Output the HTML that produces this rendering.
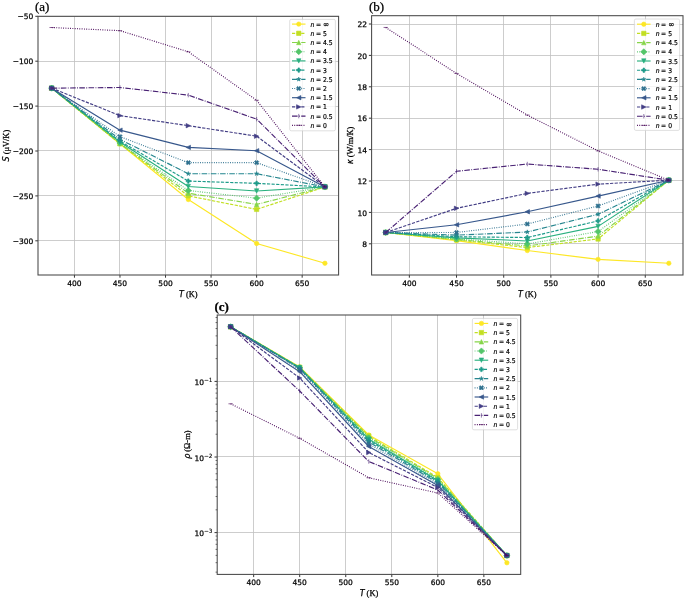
<!DOCTYPE html>
<html><head><meta charset="utf-8"><title>Figure</title>
<style>html,body{margin:0;padding:0;background:#fff}svg{display:block}</style></head>
<body>
<svg width="685" height="600" viewBox="0 0 685 600">
<rect width="685" height="600" fill="#fff"/>
<defs><filter id="soft" x="0" y="0" width="100%" height="100%" filterUnits="userSpaceOnUse"><feGaussianBlur stdDeviation="0.4"/></filter><filter id="softt" x="0" y="0" width="100%" height="100%" filterUnits="userSpaceOnUse"><feGaussianBlur stdDeviation="0.3"/></filter></defs>
<style>.t text{stroke:#000;stroke-width:0.25px}</style>
<rect x="38.00" y="16.30" width="300.60" height="258.70" fill="#fff"/>
<line x1="74.50" y1="16.30" x2="74.50" y2="275.00" stroke="#c0c0c0" stroke-width="0.80"/>
<line x1="119.50" y1="16.30" x2="119.50" y2="275.00" stroke="#c0c0c0" stroke-width="0.80"/>
<line x1="165.50" y1="16.30" x2="165.50" y2="275.00" stroke="#c0c0c0" stroke-width="0.80"/>
<line x1="211.50" y1="16.30" x2="211.50" y2="275.00" stroke="#c0c0c0" stroke-width="0.80"/>
<line x1="256.50" y1="16.30" x2="256.50" y2="275.00" stroke="#c0c0c0" stroke-width="0.80"/>
<line x1="302.50" y1="16.30" x2="302.50" y2="275.00" stroke="#c0c0c0" stroke-width="0.80"/>
<line x1="38.00" y1="240.50" x2="338.60" y2="240.50" stroke="#c0c0c0" stroke-width="0.80"/>
<line x1="38.00" y1="195.50" x2="338.60" y2="195.50" stroke="#c0c0c0" stroke-width="0.80"/>
<line x1="38.00" y1="150.50" x2="338.60" y2="150.50" stroke="#c0c0c0" stroke-width="0.80"/>
<line x1="38.00" y1="106.50" x2="338.60" y2="106.50" stroke="#c0c0c0" stroke-width="0.80"/>
<line x1="38.00" y1="61.50" x2="338.60" y2="61.50" stroke="#c0c0c0" stroke-width="0.80"/>
<line x1="38.00" y1="16.50" x2="338.60" y2="16.50" stroke="#c0c0c0" stroke-width="0.80"/>
<clipPath id="clipa"><rect x="38.00" y="16.30" width="300.60" height="258.70"/></clipPath>
<g filter="url(#soft)"><g clip-path="url(#clipa)">
<polyline points="51.66,88.14 119.98,143.82 188.30,199.49 256.62,243.49 324.94,263.25" fill="none" stroke="#fde725" stroke-width="1.15" stroke-linejoin="round"/>
<circle cx="51.66" cy="88.14" r="2.20" fill="#fde725" stroke="#fde725" stroke-width="0.60"/>
<circle cx="119.98" cy="143.82" r="2.20" fill="#fde725" stroke="#fde725" stroke-width="0.60"/>
<circle cx="188.30" cy="199.49" r="2.20" fill="#fde725" stroke="#fde725" stroke-width="0.60"/>
<circle cx="256.62" cy="243.49" r="2.20" fill="#fde725" stroke="#fde725" stroke-width="0.60"/>
<circle cx="324.94" cy="263.25" r="2.20" fill="#fde725" stroke="#fde725" stroke-width="0.60"/>
<polyline points="51.66,88.14 119.98,143.82 188.30,195.90 256.62,209.37 324.94,186.92" fill="none" stroke="#c2df23" stroke-width="1.15" stroke-dasharray="3.22,1.39" stroke-linejoin="round"/>
<path d="M49.46 90.34 L53.86 90.34 L53.86 85.94 L49.46 85.94 Z" fill="#c2df23" stroke="#c2df23" stroke-width="0.60" stroke-linejoin="miter"/>
<path d="M117.78 146.02 L122.18 146.02 L122.18 141.62 L117.78 141.62 Z" fill="#c2df23" stroke="#c2df23" stroke-width="0.60" stroke-linejoin="miter"/>
<path d="M186.10 198.10 L190.50 198.10 L190.50 193.70 L186.10 193.70 Z" fill="#c2df23" stroke="#c2df23" stroke-width="0.60" stroke-linejoin="miter"/>
<path d="M254.42 211.57 L258.82 211.57 L258.82 207.17 L254.42 207.17 Z" fill="#c2df23" stroke="#c2df23" stroke-width="0.60" stroke-linejoin="miter"/>
<path d="M322.74 189.12 L327.14 189.12 L327.14 184.72 L322.74 184.72 Z" fill="#c2df23" stroke="#c2df23" stroke-width="0.60" stroke-linejoin="miter"/>
<polyline points="51.66,88.14 119.98,143.37 188.30,193.21 256.62,204.43 324.94,186.92" fill="none" stroke="#86d549" stroke-width="1.15" stroke-dasharray="5.57,1.39,0.87,1.39" stroke-linejoin="round"/>
<path d="M51.66 85.94 L49.46 90.34 L53.86 90.34 Z" fill="#86d549" stroke="#86d549" stroke-width="0.60" stroke-linejoin="miter"/>
<path d="M119.98 141.17 L117.78 145.57 L122.18 145.57 Z" fill="#86d549" stroke="#86d549" stroke-width="0.60" stroke-linejoin="miter"/>
<path d="M188.30 191.01 L186.10 195.41 L190.50 195.41 Z" fill="#86d549" stroke="#86d549" stroke-width="0.60" stroke-linejoin="miter"/>
<path d="M256.62 202.23 L254.42 206.63 L258.82 206.63 Z" fill="#86d549" stroke="#86d549" stroke-width="0.60" stroke-linejoin="miter"/>
<path d="M324.94 184.72 L322.74 189.12 L327.14 189.12 Z" fill="#86d549" stroke="#86d549" stroke-width="0.60" stroke-linejoin="miter"/>
<polyline points="51.66,88.14 119.98,142.92 188.30,190.51 256.62,198.15 324.94,186.92" fill="none" stroke="#52c569" stroke-width="1.15" stroke-dasharray="0.87,1.44" stroke-linejoin="round"/>
<path d="M51.66 91.25 L54.77 88.14 L51.66 85.03 L48.55 88.14 Z" fill="#52c569" stroke="#52c569" stroke-width="0.60" stroke-linejoin="miter"/>
<path d="M119.98 146.03 L123.09 142.92 L119.98 139.81 L116.87 142.92 Z" fill="#52c569" stroke="#52c569" stroke-width="0.60" stroke-linejoin="miter"/>
<path d="M188.30 193.62 L191.41 190.51 L188.30 187.40 L185.19 190.51 Z" fill="#52c569" stroke="#52c569" stroke-width="0.60" stroke-linejoin="miter"/>
<path d="M256.62 201.26 L259.73 198.15 L256.62 195.03 L253.51 198.15 Z" fill="#52c569" stroke="#52c569" stroke-width="0.60" stroke-linejoin="miter"/>
<path d="M324.94 190.03 L328.05 186.92 L324.94 183.81 L321.83 186.92 Z" fill="#52c569" stroke="#52c569" stroke-width="0.60" stroke-linejoin="miter"/>
<polyline points="51.66,88.14 119.98,142.02 188.30,186.47 256.62,190.96 324.94,186.92" fill="none" stroke="#2ab07f" stroke-width="1.15" stroke-linejoin="round"/>
<path d="M51.66 90.34 L53.86 85.94 L49.46 85.94 Z" fill="#2ab07f" stroke="#2ab07f" stroke-width="0.60" stroke-linejoin="miter"/>
<path d="M119.98 144.22 L122.18 139.82 L117.78 139.82 Z" fill="#2ab07f" stroke="#2ab07f" stroke-width="0.60" stroke-linejoin="miter"/>
<path d="M188.30 188.67 L190.50 184.27 L186.10 184.27 Z" fill="#2ab07f" stroke="#2ab07f" stroke-width="0.60" stroke-linejoin="miter"/>
<path d="M256.62 193.16 L258.82 188.76 L254.42 188.76 Z" fill="#2ab07f" stroke="#2ab07f" stroke-width="0.60" stroke-linejoin="miter"/>
<path d="M324.94 189.12 L327.14 184.72 L322.74 184.72 Z" fill="#2ab07f" stroke="#2ab07f" stroke-width="0.60" stroke-linejoin="miter"/>
<polyline points="51.66,88.14 119.98,141.12 188.30,181.08 256.62,183.33 324.94,186.92" fill="none" stroke="#1e9b8a" stroke-width="1.15" stroke-dasharray="3.22,1.39" stroke-linejoin="round"/>
<path d="M50.93 90.34 L52.40 90.34 L52.40 88.87 L53.86 88.87 L53.86 87.41 L52.40 87.41 L52.40 85.94 L50.93 85.94 L50.93 87.41 L49.46 87.41 L49.46 88.87 L50.93 88.87 Z" fill="#1e9b8a" stroke="#1e9b8a" stroke-width="0.60" stroke-linejoin="miter"/>
<path d="M119.25 143.32 L120.72 143.32 L120.72 141.86 L122.18 141.86 L122.18 140.39 L120.72 140.39 L120.72 138.92 L119.25 138.92 L119.25 140.39 L117.78 140.39 L117.78 141.86 L119.25 141.86 Z" fill="#1e9b8a" stroke="#1e9b8a" stroke-width="0.60" stroke-linejoin="miter"/>
<path d="M187.57 183.28 L189.03 183.28 L189.03 181.82 L190.50 181.82 L190.50 180.35 L189.03 180.35 L189.03 178.88 L187.57 178.88 L187.57 180.35 L186.10 180.35 L186.10 181.82 L187.57 181.82 Z" fill="#1e9b8a" stroke="#1e9b8a" stroke-width="0.60" stroke-linejoin="miter"/>
<path d="M255.88 185.53 L257.35 185.53 L257.35 184.06 L258.82 184.06 L258.82 182.59 L257.35 182.59 L257.35 181.13 L255.88 181.13 L255.88 182.59 L254.42 182.59 L254.42 184.06 L255.88 184.06 Z" fill="#1e9b8a" stroke="#1e9b8a" stroke-width="0.60" stroke-linejoin="miter"/>
<path d="M324.20 189.12 L325.67 189.12 L325.67 187.65 L327.14 187.65 L327.14 186.19 L325.67 186.19 L325.67 184.72 L324.20 184.72 L324.20 186.19 L322.74 186.19 L322.74 187.65 L324.20 187.65 Z" fill="#1e9b8a" stroke="#1e9b8a" stroke-width="0.60" stroke-linejoin="miter"/>
<polyline points="51.66,88.14 119.98,139.33 188.30,173.72 256.62,173.72 324.94,186.92" fill="none" stroke="#25858e" stroke-width="1.15" stroke-dasharray="5.57,1.39,0.87,1.39" stroke-linejoin="round"/>
<path d="M51.66 85.94 L51.17 87.46 L49.57 87.46 L50.86 88.40 L50.37 89.92 L51.66 88.98 L52.96 89.92 L52.46 88.40 L53.76 87.46 L52.16 87.46 Z" fill="#25858e" stroke="#25858e" stroke-width="0.60" stroke-linejoin="miter"/>
<path d="M119.98 137.13 L119.49 138.65 L117.89 138.65 L119.18 139.59 L118.69 141.11 L119.98 140.17 L121.27 141.11 L120.78 139.59 L122.07 138.65 L120.48 138.65 Z" fill="#25858e" stroke="#25858e" stroke-width="0.60" stroke-linejoin="miter"/>
<path d="M188.30 171.52 L187.81 173.04 L186.21 173.04 L187.50 173.98 L187.01 175.50 L188.30 174.56 L189.59 175.50 L189.10 173.98 L190.39 173.04 L188.79 173.04 Z" fill="#25858e" stroke="#25858e" stroke-width="0.60" stroke-linejoin="miter"/>
<path d="M256.62 171.52 L256.12 173.04 L254.53 173.04 L255.82 173.98 L255.33 175.50 L256.62 174.56 L257.91 175.50 L257.42 173.98 L258.71 173.04 L257.11 173.04 Z" fill="#25858e" stroke="#25858e" stroke-width="0.60" stroke-linejoin="miter"/>
<path d="M324.94 184.72 L324.44 186.24 L322.84 186.24 L324.14 187.18 L323.64 188.70 L324.94 187.76 L326.23 188.70 L325.74 187.18 L327.03 186.24 L325.43 186.24 Z" fill="#25858e" stroke="#25858e" stroke-width="0.60" stroke-linejoin="miter"/>
<polyline points="51.66,88.14 119.98,136.63 188.30,162.67 256.62,162.67 324.94,186.92" fill="none" stroke="#2d708e" stroke-width="1.15" stroke-dasharray="0.87,1.44" stroke-linejoin="round"/>
<path d="M50.56 90.34 L51.66 89.24 L52.76 90.34 L53.86 89.24 L52.76 88.14 L53.86 87.04 L52.76 85.94 L51.66 87.04 L50.56 85.94 L49.46 87.04 L50.56 88.14 L49.46 89.24 Z" fill="#2d708e" stroke="#2d708e" stroke-width="0.60" stroke-linejoin="miter"/>
<path d="M118.88 138.83 L119.98 137.73 L121.08 138.83 L122.18 137.73 L121.08 136.63 L122.18 135.53 L121.08 134.43 L119.98 135.53 L118.88 134.43 L117.78 135.53 L118.88 136.63 L117.78 137.73 Z" fill="#2d708e" stroke="#2d708e" stroke-width="0.60" stroke-linejoin="miter"/>
<path d="M187.20 164.87 L188.30 163.77 L189.40 164.87 L190.50 163.77 L189.40 162.67 L190.50 161.57 L189.40 160.47 L188.30 161.57 L187.20 160.47 L186.10 161.57 L187.20 162.67 L186.10 163.77 Z" fill="#2d708e" stroke="#2d708e" stroke-width="0.60" stroke-linejoin="miter"/>
<path d="M255.52 164.87 L256.62 163.77 L257.72 164.87 L258.82 163.77 L257.72 162.67 L258.82 161.57 L257.72 160.47 L256.62 161.57 L255.52 160.47 L254.42 161.57 L255.52 162.67 L254.42 163.77 Z" fill="#2d708e" stroke="#2d708e" stroke-width="0.60" stroke-linejoin="miter"/>
<path d="M323.84 189.12 L324.94 188.02 L326.04 189.12 L327.14 188.02 L326.04 186.92 L327.14 185.82 L326.04 184.72 L324.94 185.82 L323.84 184.72 L322.74 185.82 L323.84 186.92 L322.74 188.02 Z" fill="#2d708e" stroke="#2d708e" stroke-width="0.60" stroke-linejoin="miter"/>
<polyline points="51.66,88.14 119.98,130.17 188.30,147.41 256.62,150.73 324.94,186.92" fill="none" stroke="#38588c" stroke-width="1.15" stroke-linejoin="round"/>
<path d="M49.46 88.14 L53.86 90.34 L53.86 85.94 Z" fill="#38588c" stroke="#38588c" stroke-width="0.60" stroke-linejoin="miter"/>
<path d="M117.78 130.17 L122.18 132.37 L122.18 127.97 Z" fill="#38588c" stroke="#38588c" stroke-width="0.60" stroke-linejoin="miter"/>
<path d="M186.10 147.41 L190.50 149.61 L190.50 145.21 Z" fill="#38588c" stroke="#38588c" stroke-width="0.60" stroke-linejoin="miter"/>
<path d="M254.42 150.73 L258.82 152.93 L258.82 148.53 Z" fill="#38588c" stroke="#38588c" stroke-width="0.60" stroke-linejoin="miter"/>
<path d="M322.74 186.92 L327.14 189.12 L327.14 184.72 Z" fill="#38588c" stroke="#38588c" stroke-width="0.60" stroke-linejoin="miter"/>
<polyline points="51.66,88.14 119.98,115.62 188.30,125.68 256.62,136.18 324.94,186.92" fill="none" stroke="#433e85" stroke-width="1.15" stroke-dasharray="3.22,1.39" stroke-linejoin="round"/>
<path d="M53.86 88.14 L49.46 85.94 L49.46 90.34 Z" fill="#433e85" stroke="#433e85" stroke-width="0.60" stroke-linejoin="miter"/>
<path d="M122.18 115.62 L117.78 113.42 L117.78 117.82 Z" fill="#433e85" stroke="#433e85" stroke-width="0.60" stroke-linejoin="miter"/>
<path d="M190.50 125.68 L186.10 123.48 L186.10 127.88 Z" fill="#433e85" stroke="#433e85" stroke-width="0.60" stroke-linejoin="miter"/>
<path d="M258.82 136.18 L254.42 133.98 L254.42 138.38 Z" fill="#433e85" stroke="#433e85" stroke-width="0.60" stroke-linejoin="miter"/>
<path d="M327.14 186.92 L322.74 184.72 L322.74 189.12 Z" fill="#433e85" stroke="#433e85" stroke-width="0.60" stroke-linejoin="miter"/>
<polyline points="51.66,88.14 119.98,87.51 188.30,95.14 256.62,119.12 324.94,186.92" fill="none" stroke="#482173" stroke-width="1.15" stroke-dasharray="5.57,1.39,0.87,1.39" stroke-linejoin="round"/>
<path d="M51.66 90.34 L51.66 85.94" fill="none" stroke="#482173" stroke-width="0.60"/>
<path d="M119.98 89.71 L119.98 85.31" fill="none" stroke="#482173" stroke-width="0.60"/>
<path d="M188.30 97.34 L188.30 92.94" fill="none" stroke="#482173" stroke-width="0.60"/>
<path d="M256.62 121.32 L256.62 116.92" fill="none" stroke="#482173" stroke-width="0.60"/>
<path d="M324.94 189.12 L324.94 184.72" fill="none" stroke="#482173" stroke-width="0.60"/>
<polyline points="51.66,27.53 119.98,30.67 188.30,51.77 256.62,100.26 324.94,186.92" fill="none" stroke="#440154" stroke-width="1.15" stroke-dasharray="0.87,1.44" stroke-linejoin="round"/>
<path d="M53.86 27.53 L49.46 27.53" fill="none" stroke="#440154" stroke-width="0.60"/>
<path d="M122.18 30.67 L117.78 30.67" fill="none" stroke="#440154" stroke-width="0.60"/>
<path d="M190.50 51.77 L186.10 51.77" fill="none" stroke="#440154" stroke-width="0.60"/>
<path d="M258.82 100.26 L254.42 100.26" fill="none" stroke="#440154" stroke-width="0.60"/>
<path d="M327.14 186.92 L322.74 186.92" fill="none" stroke="#440154" stroke-width="0.60"/>
</g></g>
<line x1="74.44" y1="275.00" x2="74.44" y2="277.70" stroke="#000" stroke-width="0.80"/>
<line x1="119.98" y1="275.00" x2="119.98" y2="277.70" stroke="#000" stroke-width="0.80"/>
<line x1="165.53" y1="275.00" x2="165.53" y2="277.70" stroke="#000" stroke-width="0.80"/>
<line x1="211.07" y1="275.00" x2="211.07" y2="277.70" stroke="#000" stroke-width="0.80"/>
<line x1="256.62" y1="275.00" x2="256.62" y2="277.70" stroke="#000" stroke-width="0.80"/>
<line x1="302.16" y1="275.00" x2="302.16" y2="277.70" stroke="#000" stroke-width="0.80"/>
<line x1="35.30" y1="240.80" x2="38.00" y2="240.80" stroke="#000" stroke-width="0.80"/>
<line x1="35.30" y1="195.90" x2="38.00" y2="195.90" stroke="#000" stroke-width="0.80"/>
<line x1="35.30" y1="151.00" x2="38.00" y2="151.00" stroke="#000" stroke-width="0.80"/>
<line x1="35.30" y1="106.10" x2="38.00" y2="106.10" stroke="#000" stroke-width="0.80"/>
<line x1="35.30" y1="61.20" x2="38.00" y2="61.20" stroke="#000" stroke-width="0.80"/>
<line x1="35.30" y1="16.30" x2="38.00" y2="16.30" stroke="#000" stroke-width="0.80"/>
<rect x="38.00" y="16.30" width="300.60" height="258.70" fill="none" stroke="#484848" stroke-width="1.05"/>
<g filter="url(#softt)" class="t">
<text x="74.44" y="286.00" font-size="7.50" text-anchor="middle" font-family="'DejaVu Sans','Liberation Sans',sans-serif" fill="#000">400</text>
<text x="119.98" y="286.00" font-size="7.50" text-anchor="middle" font-family="'DejaVu Sans','Liberation Sans',sans-serif" fill="#000">450</text>
<text x="165.53" y="286.00" font-size="7.50" text-anchor="middle" font-family="'DejaVu Sans','Liberation Sans',sans-serif" fill="#000">500</text>
<text x="211.07" y="286.00" font-size="7.50" text-anchor="middle" font-family="'DejaVu Sans','Liberation Sans',sans-serif" fill="#000">550</text>
<text x="256.62" y="286.00" font-size="7.50" text-anchor="middle" font-family="'DejaVu Sans','Liberation Sans',sans-serif" fill="#000">600</text>
<text x="302.16" y="286.00" font-size="7.50" text-anchor="middle" font-family="'DejaVu Sans','Liberation Sans',sans-serif" fill="#000">650</text>
<text x="33.30" y="243.94" font-size="7.50" text-anchor="end" font-family="'DejaVu Sans','Liberation Sans',sans-serif" fill="#000">−300</text>
<text x="33.30" y="199.04" font-size="7.50" text-anchor="end" font-family="'DejaVu Sans','Liberation Sans',sans-serif" fill="#000">−250</text>
<text x="33.30" y="154.14" font-size="7.50" text-anchor="end" font-family="'DejaVu Sans','Liberation Sans',sans-serif" fill="#000">−200</text>
<text x="33.30" y="109.24" font-size="7.50" text-anchor="end" font-family="'DejaVu Sans','Liberation Sans',sans-serif" fill="#000">−150</text>
<text x="33.30" y="64.34" font-size="7.50" text-anchor="end" font-family="'DejaVu Sans','Liberation Sans',sans-serif" fill="#000">−100</text>
<text x="33.30" y="19.44" font-size="7.50" text-anchor="end" font-family="'DejaVu Sans','Liberation Sans',sans-serif" fill="#000">−50</text>
<text x="188.30" y="296.80" text-anchor="middle" fill="#000"><tspan font-family="'DejaVu Sans','Liberation Sans',sans-serif" font-style="italic" font-size="8.00">T</tspan><tspan font-family="'Liberation Serif','DejaVu Serif',serif" font-size="8.40"> (K)</tspan></text>
<text transform="translate(9.00,145.65) rotate(-90)" text-anchor="middle" fill="#000"><tspan font-family="'DejaVu Sans','Liberation Sans',sans-serif" font-style="italic" font-size="8.00">S</tspan><tspan font-family="'Liberation Serif','DejaVu Serif',serif" font-size="8.40"> (μV/K)</tspan></text>
<text x="35.00" y="11.10" font-family="'Liberation Serif','DejaVu Serif',serif" font-weight="normal" font-size="13.00" fill="#000">(a)</text>
</g>
<g filter="url(#soft)">
<rect x="289.70" y="19.40" width="45.70" height="111.40" rx="1.5" ry="1.5" fill="#fff" fill-opacity="0.8" stroke="#ccc" stroke-width="0.62"/>
<line x1="292.00" y1="24.10" x2="305.50" y2="24.10" stroke="#fde725" stroke-width="1.15"/>
<circle cx="298.75" cy="24.10" r="2.20" fill="#fde725" stroke="#fde725" stroke-width="0.60"/>
<text transform="translate(310.60,26.63) scale(0.9,1)" font-size="6.75" font-family="'DejaVu Sans','Liberation Sans',sans-serif" fill="#000" stroke="#000" stroke-width="0.2"><tspan font-style="italic">n</tspan><tspan dx="1.6">=</tspan><tspan dx="2.2"><tspan font-size="8.2" dy="0.7">∞</tspan></tspan></text>
<line x1="292.00" y1="33.30" x2="305.50" y2="33.30" stroke="#c2df23" stroke-width="1.15" stroke-dasharray="3.22,1.39"/>
<path d="M296.55 35.50 L300.95 35.50 L300.95 31.10 L296.55 31.10 Z" fill="#c2df23" stroke="#c2df23" stroke-width="0.60" stroke-linejoin="miter"/>
<text transform="translate(310.60,35.83) scale(0.9,1)" font-size="6.75" font-family="'DejaVu Sans','Liberation Sans',sans-serif" fill="#000" stroke="#000" stroke-width="0.2"><tspan font-style="italic">n</tspan><tspan dx="1.6">=</tspan><tspan dx="2.2">5</tspan></text>
<line x1="292.00" y1="42.50" x2="305.50" y2="42.50" stroke="#86d549" stroke-width="1.15" stroke-dasharray="5.57,1.39,0.87,1.39"/>
<path d="M298.75 40.30 L296.55 44.70 L300.95 44.70 Z" fill="#86d549" stroke="#86d549" stroke-width="0.60" stroke-linejoin="miter"/>
<text transform="translate(310.60,45.03) scale(0.9,1)" font-size="6.75" font-family="'DejaVu Sans','Liberation Sans',sans-serif" fill="#000" stroke="#000" stroke-width="0.2"><tspan font-style="italic">n</tspan><tspan dx="1.6">=</tspan><tspan dx="2.2">4.5</tspan></text>
<line x1="292.00" y1="51.70" x2="305.50" y2="51.70" stroke="#52c569" stroke-width="1.15" stroke-dasharray="0.87,1.44"/>
<path d="M298.75 54.81 L301.86 51.70 L298.75 48.59 L295.64 51.70 Z" fill="#52c569" stroke="#52c569" stroke-width="0.60" stroke-linejoin="miter"/>
<text transform="translate(310.60,54.23) scale(0.9,1)" font-size="6.75" font-family="'DejaVu Sans','Liberation Sans',sans-serif" fill="#000" stroke="#000" stroke-width="0.2"><tspan font-style="italic">n</tspan><tspan dx="1.6">=</tspan><tspan dx="2.2">4</tspan></text>
<line x1="292.00" y1="60.90" x2="305.50" y2="60.90" stroke="#2ab07f" stroke-width="1.15"/>
<path d="M298.75 63.10 L300.95 58.70 L296.55 58.70 Z" fill="#2ab07f" stroke="#2ab07f" stroke-width="0.60" stroke-linejoin="miter"/>
<text transform="translate(310.60,63.43) scale(0.9,1)" font-size="6.75" font-family="'DejaVu Sans','Liberation Sans',sans-serif" fill="#000" stroke="#000" stroke-width="0.2"><tspan font-style="italic">n</tspan><tspan dx="1.6">=</tspan><tspan dx="2.2">3.5</tspan></text>
<line x1="292.00" y1="70.10" x2="305.50" y2="70.10" stroke="#1e9b8a" stroke-width="1.15" stroke-dasharray="3.22,1.39"/>
<path d="M298.02 72.30 L299.48 72.30 L299.48 70.83 L300.95 70.83 L300.95 69.37 L299.48 69.37 L299.48 67.90 L298.02 67.90 L298.02 69.37 L296.55 69.37 L296.55 70.83 L298.02 70.83 Z" fill="#1e9b8a" stroke="#1e9b8a" stroke-width="0.60" stroke-linejoin="miter"/>
<text transform="translate(310.60,72.63) scale(0.9,1)" font-size="6.75" font-family="'DejaVu Sans','Liberation Sans',sans-serif" fill="#000" stroke="#000" stroke-width="0.2"><tspan font-style="italic">n</tspan><tspan dx="1.6">=</tspan><tspan dx="2.2">3</tspan></text>
<line x1="292.00" y1="79.30" x2="305.50" y2="79.30" stroke="#25858e" stroke-width="1.15" stroke-dasharray="5.57,1.39,0.87,1.39"/>
<path d="M298.75 77.10 L298.26 78.62 L296.66 78.62 L297.95 79.56 L297.46 81.08 L298.75 80.14 L300.04 81.08 L299.55 79.56 L300.84 78.62 L299.24 78.62 Z" fill="#25858e" stroke="#25858e" stroke-width="0.60" stroke-linejoin="miter"/>
<text transform="translate(310.60,81.83) scale(0.9,1)" font-size="6.75" font-family="'DejaVu Sans','Liberation Sans',sans-serif" fill="#000" stroke="#000" stroke-width="0.2"><tspan font-style="italic">n</tspan><tspan dx="1.6">=</tspan><tspan dx="2.2">2.5</tspan></text>
<line x1="292.00" y1="88.50" x2="305.50" y2="88.50" stroke="#2d708e" stroke-width="1.15" stroke-dasharray="0.87,1.44"/>
<path d="M297.65 90.70 L298.75 89.60 L299.85 90.70 L300.95 89.60 L299.85 88.50 L300.95 87.40 L299.85 86.30 L298.75 87.40 L297.65 86.30 L296.55 87.40 L297.65 88.50 L296.55 89.60 Z" fill="#2d708e" stroke="#2d708e" stroke-width="0.60" stroke-linejoin="miter"/>
<text transform="translate(310.60,91.03) scale(0.9,1)" font-size="6.75" font-family="'DejaVu Sans','Liberation Sans',sans-serif" fill="#000" stroke="#000" stroke-width="0.2"><tspan font-style="italic">n</tspan><tspan dx="1.6">=</tspan><tspan dx="2.2">2</tspan></text>
<line x1="292.00" y1="97.70" x2="305.50" y2="97.70" stroke="#38588c" stroke-width="1.15"/>
<path d="M296.55 97.70 L300.95 99.90 L300.95 95.50 Z" fill="#38588c" stroke="#38588c" stroke-width="0.60" stroke-linejoin="miter"/>
<text transform="translate(310.60,100.23) scale(0.9,1)" font-size="6.75" font-family="'DejaVu Sans','Liberation Sans',sans-serif" fill="#000" stroke="#000" stroke-width="0.2"><tspan font-style="italic">n</tspan><tspan dx="1.6">=</tspan><tspan dx="2.2">1.5</tspan></text>
<line x1="292.00" y1="106.90" x2="305.50" y2="106.90" stroke="#433e85" stroke-width="1.15" stroke-dasharray="3.22,1.39"/>
<path d="M300.95 106.90 L296.55 104.70 L296.55 109.10 Z" fill="#433e85" stroke="#433e85" stroke-width="0.60" stroke-linejoin="miter"/>
<text transform="translate(310.60,109.43) scale(0.9,1)" font-size="6.75" font-family="'DejaVu Sans','Liberation Sans',sans-serif" fill="#000" stroke="#000" stroke-width="0.2"><tspan font-style="italic">n</tspan><tspan dx="1.6">=</tspan><tspan dx="2.2">1</tspan></text>
<line x1="292.00" y1="116.10" x2="305.50" y2="116.10" stroke="#482173" stroke-width="1.15" stroke-dasharray="5.57,1.39,0.87,1.39"/>
<path d="M298.75 118.30 L298.75 113.90" fill="none" stroke="#482173" stroke-width="0.60"/>
<text transform="translate(310.60,118.63) scale(0.9,1)" font-size="6.75" font-family="'DejaVu Sans','Liberation Sans',sans-serif" fill="#000" stroke="#000" stroke-width="0.2"><tspan font-style="italic">n</tspan><tspan dx="1.6">=</tspan><tspan dx="2.2">0.5</tspan></text>
<line x1="292.00" y1="125.30" x2="305.50" y2="125.30" stroke="#440154" stroke-width="1.15" stroke-dasharray="0.87,1.44"/>
<path d="M300.95 125.30 L296.55 125.30" fill="none" stroke="#440154" stroke-width="0.60"/>
<text transform="translate(310.60,127.83) scale(0.9,1)" font-size="6.75" font-family="'DejaVu Sans','Liberation Sans',sans-serif" fill="#000" stroke="#000" stroke-width="0.2"><tspan font-style="italic">n</tspan><tspan dx="1.6">=</tspan><tspan dx="2.2">0</tspan></text>
</g>
<rect x="371.60" y="15.70" width="311.40" height="259.30" fill="#fff"/>
<line x1="409.50" y1="15.70" x2="409.50" y2="275.00" stroke="#c0c0c0" stroke-width="0.80"/>
<line x1="456.50" y1="15.70" x2="456.50" y2="275.00" stroke="#c0c0c0" stroke-width="0.80"/>
<line x1="503.50" y1="15.70" x2="503.50" y2="275.00" stroke="#c0c0c0" stroke-width="0.80"/>
<line x1="550.50" y1="15.70" x2="550.50" y2="275.00" stroke="#c0c0c0" stroke-width="0.80"/>
<line x1="598.50" y1="15.70" x2="598.50" y2="275.00" stroke="#c0c0c0" stroke-width="0.80"/>
<line x1="645.50" y1="15.70" x2="645.50" y2="275.00" stroke="#c0c0c0" stroke-width="0.80"/>
<line x1="371.60" y1="243.50" x2="683.00" y2="243.50" stroke="#c0c0c0" stroke-width="0.80"/>
<line x1="371.60" y1="212.50" x2="683.00" y2="212.50" stroke="#c0c0c0" stroke-width="0.80"/>
<line x1="371.60" y1="180.50" x2="683.00" y2="180.50" stroke="#c0c0c0" stroke-width="0.80"/>
<line x1="371.60" y1="149.50" x2="683.00" y2="149.50" stroke="#c0c0c0" stroke-width="0.80"/>
<line x1="371.60" y1="118.50" x2="683.00" y2="118.50" stroke="#c0c0c0" stroke-width="0.80"/>
<line x1="371.60" y1="86.50" x2="683.00" y2="86.50" stroke="#c0c0c0" stroke-width="0.80"/>
<line x1="371.60" y1="55.50" x2="683.00" y2="55.50" stroke="#c0c0c0" stroke-width="0.80"/>
<line x1="371.60" y1="24.50" x2="683.00" y2="24.50" stroke="#c0c0c0" stroke-width="0.80"/>
<clipPath id="clipb"><rect x="371.60" y="15.70" width="311.40" height="259.30"/></clipPath>
<g filter="url(#soft)"><g clip-path="url(#clipb)">
<polyline points="385.75,232.50 456.53,240.66 527.30,250.55 598.07,259.34 668.85,263.27" fill="none" stroke="#fde725" stroke-width="1.15" stroke-linejoin="round"/>
<circle cx="385.75" cy="232.50" r="2.20" fill="#fde725" stroke="#fde725" stroke-width="0.60"/>
<circle cx="456.53" cy="240.66" r="2.20" fill="#fde725" stroke="#fde725" stroke-width="0.60"/>
<circle cx="527.30" cy="250.55" r="2.20" fill="#fde725" stroke="#fde725" stroke-width="0.60"/>
<circle cx="598.07" cy="259.34" r="2.20" fill="#fde725" stroke="#fde725" stroke-width="0.60"/>
<circle cx="668.85" cy="263.27" r="2.20" fill="#fde725" stroke="#fde725" stroke-width="0.60"/>
<polyline points="385.75,232.50 456.53,239.88 527.30,247.57 598.07,238.93 668.85,180.21" fill="none" stroke="#c2df23" stroke-width="1.15" stroke-dasharray="3.22,1.39" stroke-linejoin="round"/>
<path d="M383.55 234.70 L387.95 234.70 L387.95 230.30 L383.55 230.30 Z" fill="#c2df23" stroke="#c2df23" stroke-width="0.60" stroke-linejoin="miter"/>
<path d="M454.33 242.07 L458.73 242.07 L458.73 237.68 L454.33 237.68 Z" fill="#c2df23" stroke="#c2df23" stroke-width="0.60" stroke-linejoin="miter"/>
<path d="M525.10 249.77 L529.50 249.77 L529.50 245.37 L525.10 245.37 Z" fill="#c2df23" stroke="#c2df23" stroke-width="0.60" stroke-linejoin="miter"/>
<path d="M595.87 241.13 L600.27 241.13 L600.27 236.73 L595.87 236.73 Z" fill="#c2df23" stroke="#c2df23" stroke-width="0.60" stroke-linejoin="miter"/>
<path d="M666.65 182.41 L671.05 182.41 L671.05 178.01 L666.65 178.01 Z" fill="#c2df23" stroke="#c2df23" stroke-width="0.60" stroke-linejoin="miter"/>
<polyline points="385.75,232.50 456.53,239.40 527.30,246.00 598.07,236.11 668.85,180.21" fill="none" stroke="#86d549" stroke-width="1.15" stroke-dasharray="5.57,1.39,0.87,1.39" stroke-linejoin="round"/>
<path d="M385.75 230.30 L383.55 234.70 L387.95 234.70 Z" fill="#86d549" stroke="#86d549" stroke-width="0.60" stroke-linejoin="miter"/>
<path d="M456.53 237.20 L454.33 241.60 L458.73 241.60 Z" fill="#86d549" stroke="#86d549" stroke-width="0.60" stroke-linejoin="miter"/>
<path d="M527.30 243.80 L525.10 248.20 L529.50 248.20 Z" fill="#86d549" stroke="#86d549" stroke-width="0.60" stroke-linejoin="miter"/>
<path d="M598.07 233.91 L595.87 238.31 L600.27 238.31 Z" fill="#86d549" stroke="#86d549" stroke-width="0.60" stroke-linejoin="miter"/>
<path d="M668.85 178.01 L666.65 182.41 L671.05 182.41 Z" fill="#86d549" stroke="#86d549" stroke-width="0.60" stroke-linejoin="miter"/>
<polyline points="385.75,232.50 456.53,238.78 527.30,243.96 598.07,231.55 668.85,180.21" fill="none" stroke="#52c569" stroke-width="1.15" stroke-dasharray="0.87,1.44" stroke-linejoin="round"/>
<path d="M385.75 235.61 L388.87 232.50 L385.75 229.38 L382.64 232.50 Z" fill="#52c569" stroke="#52c569" stroke-width="0.60" stroke-linejoin="miter"/>
<path d="M456.53 241.89 L459.64 238.78 L456.53 235.66 L453.42 238.78 Z" fill="#52c569" stroke="#52c569" stroke-width="0.60" stroke-linejoin="miter"/>
<path d="M527.30 247.07 L530.41 243.96 L527.30 240.85 L524.19 243.96 Z" fill="#52c569" stroke="#52c569" stroke-width="0.60" stroke-linejoin="miter"/>
<path d="M598.07 234.67 L601.18 231.55 L598.07 228.44 L594.96 231.55 Z" fill="#52c569" stroke="#52c569" stroke-width="0.60" stroke-linejoin="miter"/>
<path d="M668.85 183.33 L671.96 180.21 L668.85 177.10 L665.73 180.21 Z" fill="#52c569" stroke="#52c569" stroke-width="0.60" stroke-linejoin="miter"/>
<polyline points="385.75,232.50 456.53,237.83 527.30,240.97 598.07,226.37 668.85,180.21" fill="none" stroke="#2ab07f" stroke-width="1.15" stroke-linejoin="round"/>
<path d="M385.75 234.70 L387.95 230.30 L383.55 230.30 Z" fill="#2ab07f" stroke="#2ab07f" stroke-width="0.60" stroke-linejoin="miter"/>
<path d="M456.53 240.03 L458.73 235.63 L454.33 235.63 Z" fill="#2ab07f" stroke="#2ab07f" stroke-width="0.60" stroke-linejoin="miter"/>
<path d="M527.30 243.17 L529.50 238.77 L525.10 238.77 Z" fill="#2ab07f" stroke="#2ab07f" stroke-width="0.60" stroke-linejoin="miter"/>
<path d="M598.07 228.57 L600.27 224.17 L595.87 224.17 Z" fill="#2ab07f" stroke="#2ab07f" stroke-width="0.60" stroke-linejoin="miter"/>
<path d="M668.85 182.41 L671.05 178.01 L666.65 178.01 Z" fill="#2ab07f" stroke="#2ab07f" stroke-width="0.60" stroke-linejoin="miter"/>
<polyline points="385.75,232.50 456.53,236.74 527.30,237.52 598.07,220.88 668.85,180.21" fill="none" stroke="#1e9b8a" stroke-width="1.15" stroke-dasharray="3.22,1.39" stroke-linejoin="round"/>
<path d="M385.02 234.70 L386.49 234.70 L386.49 233.23 L387.95 233.23 L387.95 231.76 L386.49 231.76 L386.49 230.30 L385.02 230.30 L385.02 231.76 L383.55 231.76 L383.55 233.23 L385.02 233.23 Z" fill="#1e9b8a" stroke="#1e9b8a" stroke-width="0.60" stroke-linejoin="miter"/>
<path d="M455.79 238.94 L457.26 238.94 L457.26 237.47 L458.73 237.47 L458.73 236.00 L457.26 236.00 L457.26 234.54 L455.79 234.54 L455.79 236.00 L454.33 236.00 L454.33 237.47 L455.79 237.47 Z" fill="#1e9b8a" stroke="#1e9b8a" stroke-width="0.60" stroke-linejoin="miter"/>
<path d="M526.57 239.72 L528.03 239.72 L528.03 238.25 L529.50 238.25 L529.50 236.79 L528.03 236.79 L528.03 235.32 L526.57 235.32 L526.57 236.79 L525.10 236.79 L525.10 238.25 L526.57 238.25 Z" fill="#1e9b8a" stroke="#1e9b8a" stroke-width="0.60" stroke-linejoin="miter"/>
<path d="M597.34 223.08 L598.81 223.08 L598.81 221.61 L600.27 221.61 L600.27 220.14 L598.81 220.14 L598.81 218.68 L597.34 218.68 L597.34 220.14 L595.87 220.14 L595.87 221.61 L597.34 221.61 Z" fill="#1e9b8a" stroke="#1e9b8a" stroke-width="0.60" stroke-linejoin="miter"/>
<path d="M668.11 182.41 L669.58 182.41 L669.58 180.95 L671.05 180.95 L671.05 179.48 L669.58 179.48 L669.58 178.01 L668.11 178.01 L668.11 179.48 L666.65 179.48 L666.65 180.95 L668.11 180.95 Z" fill="#1e9b8a" stroke="#1e9b8a" stroke-width="0.60" stroke-linejoin="miter"/>
<polyline points="385.75,232.50 456.53,235.16 527.30,232.03 598.07,214.28 668.85,180.21" fill="none" stroke="#25858e" stroke-width="1.15" stroke-dasharray="5.57,1.39,0.87,1.39" stroke-linejoin="round"/>
<path d="M385.75 230.30 L385.26 231.82 L383.66 231.82 L384.96 232.76 L384.46 234.28 L385.75 233.34 L387.05 234.28 L386.55 232.76 L387.85 231.82 L386.25 231.82 Z" fill="#25858e" stroke="#25858e" stroke-width="0.60" stroke-linejoin="miter"/>
<path d="M456.53 232.97 L456.03 234.49 L454.43 234.49 L455.73 235.42 L455.23 236.94 L456.53 236.01 L457.82 236.94 L457.33 235.42 L458.62 234.49 L457.02 234.49 Z" fill="#25858e" stroke="#25858e" stroke-width="0.60" stroke-linejoin="miter"/>
<path d="M527.30 229.83 L526.81 231.35 L525.21 231.35 L526.50 232.28 L526.01 233.80 L527.30 232.87 L528.59 233.80 L528.10 232.28 L529.39 231.35 L527.79 231.35 Z" fill="#25858e" stroke="#25858e" stroke-width="0.60" stroke-linejoin="miter"/>
<path d="M598.07 212.08 L597.58 213.60 L595.98 213.60 L597.27 214.54 L596.78 216.06 L598.07 215.12 L599.37 216.06 L598.87 214.54 L600.17 213.60 L598.57 213.60 Z" fill="#25858e" stroke="#25858e" stroke-width="0.60" stroke-linejoin="miter"/>
<path d="M668.85 178.01 L668.35 179.54 L666.75 179.54 L668.05 180.47 L667.55 181.99 L668.85 181.06 L670.14 181.99 L669.64 180.47 L670.94 179.54 L669.34 179.54 Z" fill="#25858e" stroke="#25858e" stroke-width="0.60" stroke-linejoin="miter"/>
<polyline points="385.75,232.50 456.53,232.50 527.30,224.02 598.07,205.96 668.85,180.21" fill="none" stroke="#2d708e" stroke-width="1.15" stroke-dasharray="0.87,1.44" stroke-linejoin="round"/>
<path d="M384.65 234.70 L385.75 233.60 L386.85 234.70 L387.95 233.60 L386.85 232.50 L387.95 231.40 L386.85 230.30 L385.75 231.40 L384.65 230.30 L383.55 231.40 L384.65 232.50 L383.55 233.60 Z" fill="#2d708e" stroke="#2d708e" stroke-width="0.60" stroke-linejoin="miter"/>
<path d="M455.43 234.70 L456.53 233.60 L457.63 234.70 L458.73 233.60 L457.63 232.50 L458.73 231.40 L457.63 230.30 L456.53 231.40 L455.43 230.30 L454.33 231.40 L455.43 232.50 L454.33 233.60 Z" fill="#2d708e" stroke="#2d708e" stroke-width="0.60" stroke-linejoin="miter"/>
<path d="M526.20 226.22 L527.30 225.12 L528.40 226.22 L529.50 225.12 L528.40 224.02 L529.50 222.92 L528.40 221.82 L527.30 222.92 L526.20 221.82 L525.10 222.92 L526.20 224.02 L525.10 225.12 Z" fill="#2d708e" stroke="#2d708e" stroke-width="0.60" stroke-linejoin="miter"/>
<path d="M596.97 208.16 L598.07 207.06 L599.17 208.16 L600.27 207.06 L599.17 205.96 L600.27 204.86 L599.17 203.76 L598.07 204.86 L596.97 203.76 L595.87 204.86 L596.97 205.96 L595.87 207.06 Z" fill="#2d708e" stroke="#2d708e" stroke-width="0.60" stroke-linejoin="miter"/>
<path d="M667.75 182.41 L668.85 181.31 L669.95 182.41 L671.05 181.31 L669.95 180.21 L671.05 179.11 L669.95 178.01 L668.85 179.11 L667.75 178.01 L666.65 179.11 L667.75 180.21 L666.65 181.31 Z" fill="#2d708e" stroke="#2d708e" stroke-width="0.60" stroke-linejoin="miter"/>
<polyline points="385.75,232.50 456.53,224.80 527.30,211.77 598.07,196.07 668.85,180.21" fill="none" stroke="#38588c" stroke-width="1.15" stroke-linejoin="round"/>
<path d="M383.55 232.50 L387.95 234.70 L387.95 230.30 Z" fill="#38588c" stroke="#38588c" stroke-width="0.60" stroke-linejoin="miter"/>
<path d="M454.33 224.80 L458.73 227.00 L458.73 222.60 Z" fill="#38588c" stroke="#38588c" stroke-width="0.60" stroke-linejoin="miter"/>
<path d="M525.10 211.77 L529.50 213.97 L529.50 209.57 Z" fill="#38588c" stroke="#38588c" stroke-width="0.60" stroke-linejoin="miter"/>
<path d="M595.87 196.07 L600.27 198.27 L600.27 193.87 Z" fill="#38588c" stroke="#38588c" stroke-width="0.60" stroke-linejoin="miter"/>
<path d="M666.65 180.21 L671.05 182.41 L671.05 178.01 Z" fill="#38588c" stroke="#38588c" stroke-width="0.60" stroke-linejoin="miter"/>
<polyline points="385.75,232.50 456.53,208.32 527.30,193.40 598.07,184.14 668.85,180.21" fill="none" stroke="#433e85" stroke-width="1.15" stroke-dasharray="3.22,1.39" stroke-linejoin="round"/>
<path d="M387.95 232.50 L383.55 230.30 L383.55 234.70 Z" fill="#433e85" stroke="#433e85" stroke-width="0.60" stroke-linejoin="miter"/>
<path d="M458.73 208.32 L454.33 206.12 L454.33 210.52 Z" fill="#433e85" stroke="#433e85" stroke-width="0.60" stroke-linejoin="miter"/>
<path d="M529.50 193.40 L525.10 191.20 L525.10 195.60 Z" fill="#433e85" stroke="#433e85" stroke-width="0.60" stroke-linejoin="miter"/>
<path d="M600.27 184.14 L595.87 181.94 L595.87 186.34 Z" fill="#433e85" stroke="#433e85" stroke-width="0.60" stroke-linejoin="miter"/>
<path d="M671.05 180.21 L666.65 178.01 L666.65 182.41 Z" fill="#433e85" stroke="#433e85" stroke-width="0.60" stroke-linejoin="miter"/>
<polyline points="385.75,232.50 456.53,171.27 527.30,164.04 598.07,169.23 668.85,180.21" fill="none" stroke="#482173" stroke-width="1.15" stroke-dasharray="5.57,1.39,0.87,1.39" stroke-linejoin="round"/>
<path d="M385.75 234.70 L385.75 230.30" fill="none" stroke="#482173" stroke-width="0.60"/>
<path d="M456.53 173.47 L456.53 169.07" fill="none" stroke="#482173" stroke-width="0.60"/>
<path d="M527.30 166.24 L527.30 161.84" fill="none" stroke="#482173" stroke-width="0.60"/>
<path d="M598.07 171.43 L598.07 167.03" fill="none" stroke="#482173" stroke-width="0.60"/>
<path d="M668.85 182.41 L668.85 178.01" fill="none" stroke="#482173" stroke-width="0.60"/>
<polyline points="385.75,27.45 456.53,73.45 527.30,115.06 598.07,150.86 668.85,180.21" fill="none" stroke="#440154" stroke-width="1.15" stroke-dasharray="0.87,1.44" stroke-linejoin="round"/>
<path d="M387.95 27.45 L383.55 27.45" fill="none" stroke="#440154" stroke-width="0.60"/>
<path d="M458.73 73.45 L454.33 73.45" fill="none" stroke="#440154" stroke-width="0.60"/>
<path d="M529.50 115.06 L525.10 115.06" fill="none" stroke="#440154" stroke-width="0.60"/>
<path d="M600.27 150.86 L595.87 150.86" fill="none" stroke="#440154" stroke-width="0.60"/>
<path d="M671.05 180.21 L666.65 180.21" fill="none" stroke="#440154" stroke-width="0.60"/>
</g></g>
<line x1="409.35" y1="275.00" x2="409.35" y2="277.70" stroke="#000" stroke-width="0.80"/>
<line x1="456.53" y1="275.00" x2="456.53" y2="277.70" stroke="#000" stroke-width="0.80"/>
<line x1="503.71" y1="275.00" x2="503.71" y2="277.70" stroke="#000" stroke-width="0.80"/>
<line x1="550.89" y1="275.00" x2="550.89" y2="277.70" stroke="#000" stroke-width="0.80"/>
<line x1="598.07" y1="275.00" x2="598.07" y2="277.70" stroke="#000" stroke-width="0.80"/>
<line x1="645.25" y1="275.00" x2="645.25" y2="277.70" stroke="#000" stroke-width="0.80"/>
<line x1="368.90" y1="243.80" x2="371.60" y2="243.80" stroke="#000" stroke-width="0.80"/>
<line x1="368.90" y1="212.40" x2="371.60" y2="212.40" stroke="#000" stroke-width="0.80"/>
<line x1="368.90" y1="181.00" x2="371.60" y2="181.00" stroke="#000" stroke-width="0.80"/>
<line x1="368.90" y1="149.60" x2="371.60" y2="149.60" stroke="#000" stroke-width="0.80"/>
<line x1="368.90" y1="118.20" x2="371.60" y2="118.20" stroke="#000" stroke-width="0.80"/>
<line x1="368.90" y1="86.80" x2="371.60" y2="86.80" stroke="#000" stroke-width="0.80"/>
<line x1="368.90" y1="55.40" x2="371.60" y2="55.40" stroke="#000" stroke-width="0.80"/>
<line x1="368.90" y1="24.00" x2="371.60" y2="24.00" stroke="#000" stroke-width="0.80"/>
<rect x="371.60" y="15.70" width="311.40" height="259.30" fill="none" stroke="#484848" stroke-width="1.05"/>
<g filter="url(#softt)" class="t">
<text x="409.35" y="286.00" font-size="7.50" text-anchor="middle" font-family="'DejaVu Sans','Liberation Sans',sans-serif" fill="#000">400</text>
<text x="456.53" y="286.00" font-size="7.50" text-anchor="middle" font-family="'DejaVu Sans','Liberation Sans',sans-serif" fill="#000">450</text>
<text x="503.71" y="286.00" font-size="7.50" text-anchor="middle" font-family="'DejaVu Sans','Liberation Sans',sans-serif" fill="#000">500</text>
<text x="550.89" y="286.00" font-size="7.50" text-anchor="middle" font-family="'DejaVu Sans','Liberation Sans',sans-serif" fill="#000">550</text>
<text x="598.07" y="286.00" font-size="7.50" text-anchor="middle" font-family="'DejaVu Sans','Liberation Sans',sans-serif" fill="#000">600</text>
<text x="645.25" y="286.00" font-size="7.50" text-anchor="middle" font-family="'DejaVu Sans','Liberation Sans',sans-serif" fill="#000">650</text>
<text x="367.00" y="246.94" font-size="7.50" text-anchor="end" font-family="'DejaVu Sans','Liberation Sans',sans-serif" fill="#000">8</text>
<text x="367.00" y="215.54" font-size="7.50" text-anchor="end" font-family="'DejaVu Sans','Liberation Sans',sans-serif" fill="#000">10</text>
<text x="367.00" y="184.14" font-size="7.50" text-anchor="end" font-family="'DejaVu Sans','Liberation Sans',sans-serif" fill="#000">12</text>
<text x="367.00" y="152.74" font-size="7.50" text-anchor="end" font-family="'DejaVu Sans','Liberation Sans',sans-serif" fill="#000">14</text>
<text x="367.00" y="121.34" font-size="7.50" text-anchor="end" font-family="'DejaVu Sans','Liberation Sans',sans-serif" fill="#000">16</text>
<text x="367.00" y="89.94" font-size="7.50" text-anchor="end" font-family="'DejaVu Sans','Liberation Sans',sans-serif" fill="#000">18</text>
<text x="367.00" y="58.54" font-size="7.50" text-anchor="end" font-family="'DejaVu Sans','Liberation Sans',sans-serif" fill="#000">20</text>
<text x="367.00" y="27.14" font-size="7.50" text-anchor="end" font-family="'DejaVu Sans','Liberation Sans',sans-serif" fill="#000">22</text>
<text x="527.30" y="296.80" text-anchor="middle" fill="#000"><tspan font-family="'DejaVu Sans','Liberation Sans',sans-serif" font-style="italic" font-size="8.00">T</tspan><tspan font-family="'Liberation Serif','DejaVu Serif',serif" font-size="8.40"> (K)</tspan></text>
<text transform="translate(352.50,145.35) rotate(-90)" text-anchor="middle" fill="#000"><tspan font-family="'DejaVu Sans','Liberation Sans',sans-serif" font-style="italic" font-size="8.00">κ</tspan><tspan font-family="'Liberation Serif','DejaVu Serif',serif" font-size="8.40"> (W/m/K)</tspan></text>
<text x="369.00" y="11.10" font-family="'Liberation Serif','DejaVu Serif',serif" font-weight="normal" font-size="13.00" fill="#000">(b)</text>
</g>
<g filter="url(#soft)">
<rect x="634.40" y="19.00" width="45.20" height="111.40" rx="1.5" ry="1.5" fill="#fff" fill-opacity="0.8" stroke="#ccc" stroke-width="0.62"/>
<line x1="637.00" y1="24.20" x2="650.60" y2="24.20" stroke="#fde725" stroke-width="1.15"/>
<circle cx="643.80" cy="24.20" r="2.20" fill="#fde725" stroke="#fde725" stroke-width="0.60"/>
<text transform="translate(655.80,26.73) scale(0.9,1)" font-size="6.75" font-family="'DejaVu Sans','Liberation Sans',sans-serif" fill="#000" stroke="#000" stroke-width="0.2"><tspan font-style="italic">n</tspan><tspan dx="1.6">=</tspan><tspan dx="2.2"><tspan font-size="8.2" dy="0.7">∞</tspan></tspan></text>
<line x1="637.00" y1="33.40" x2="650.60" y2="33.40" stroke="#c2df23" stroke-width="1.15" stroke-dasharray="3.22,1.39"/>
<path d="M641.60 35.60 L646.00 35.60 L646.00 31.20 L641.60 31.20 Z" fill="#c2df23" stroke="#c2df23" stroke-width="0.60" stroke-linejoin="miter"/>
<text transform="translate(655.80,35.93) scale(0.9,1)" font-size="6.75" font-family="'DejaVu Sans','Liberation Sans',sans-serif" fill="#000" stroke="#000" stroke-width="0.2"><tspan font-style="italic">n</tspan><tspan dx="1.6">=</tspan><tspan dx="2.2">5</tspan></text>
<line x1="637.00" y1="42.60" x2="650.60" y2="42.60" stroke="#86d549" stroke-width="1.15" stroke-dasharray="5.57,1.39,0.87,1.39"/>
<path d="M643.80 40.40 L641.60 44.80 L646.00 44.80 Z" fill="#86d549" stroke="#86d549" stroke-width="0.60" stroke-linejoin="miter"/>
<text transform="translate(655.80,45.13) scale(0.9,1)" font-size="6.75" font-family="'DejaVu Sans','Liberation Sans',sans-serif" fill="#000" stroke="#000" stroke-width="0.2"><tspan font-style="italic">n</tspan><tspan dx="1.6">=</tspan><tspan dx="2.2">4.5</tspan></text>
<line x1="637.00" y1="51.80" x2="650.60" y2="51.80" stroke="#52c569" stroke-width="1.15" stroke-dasharray="0.87,1.44"/>
<path d="M643.80 54.91 L646.91 51.80 L643.80 48.69 L640.69 51.80 Z" fill="#52c569" stroke="#52c569" stroke-width="0.60" stroke-linejoin="miter"/>
<text transform="translate(655.80,54.33) scale(0.9,1)" font-size="6.75" font-family="'DejaVu Sans','Liberation Sans',sans-serif" fill="#000" stroke="#000" stroke-width="0.2"><tspan font-style="italic">n</tspan><tspan dx="1.6">=</tspan><tspan dx="2.2">4</tspan></text>
<line x1="637.00" y1="61.00" x2="650.60" y2="61.00" stroke="#2ab07f" stroke-width="1.15"/>
<path d="M643.80 63.20 L646.00 58.80 L641.60 58.80 Z" fill="#2ab07f" stroke="#2ab07f" stroke-width="0.60" stroke-linejoin="miter"/>
<text transform="translate(655.80,63.53) scale(0.9,1)" font-size="6.75" font-family="'DejaVu Sans','Liberation Sans',sans-serif" fill="#000" stroke="#000" stroke-width="0.2"><tspan font-style="italic">n</tspan><tspan dx="1.6">=</tspan><tspan dx="2.2">3.5</tspan></text>
<line x1="637.00" y1="70.20" x2="650.60" y2="70.20" stroke="#1e9b8a" stroke-width="1.15" stroke-dasharray="3.22,1.39"/>
<path d="M643.07 72.40 L644.53 72.40 L644.53 70.93 L646.00 70.93 L646.00 69.47 L644.53 69.47 L644.53 68.00 L643.07 68.00 L643.07 69.47 L641.60 69.47 L641.60 70.93 L643.07 70.93 Z" fill="#1e9b8a" stroke="#1e9b8a" stroke-width="0.60" stroke-linejoin="miter"/>
<text transform="translate(655.80,72.73) scale(0.9,1)" font-size="6.75" font-family="'DejaVu Sans','Liberation Sans',sans-serif" fill="#000" stroke="#000" stroke-width="0.2"><tspan font-style="italic">n</tspan><tspan dx="1.6">=</tspan><tspan dx="2.2">3</tspan></text>
<line x1="637.00" y1="79.40" x2="650.60" y2="79.40" stroke="#25858e" stroke-width="1.15" stroke-dasharray="5.57,1.39,0.87,1.39"/>
<path d="M643.80 77.20 L643.31 78.72 L641.71 78.72 L643.00 79.66 L642.51 81.18 L643.80 80.24 L645.09 81.18 L644.60 79.66 L645.89 78.72 L644.29 78.72 Z" fill="#25858e" stroke="#25858e" stroke-width="0.60" stroke-linejoin="miter"/>
<text transform="translate(655.80,81.93) scale(0.9,1)" font-size="6.75" font-family="'DejaVu Sans','Liberation Sans',sans-serif" fill="#000" stroke="#000" stroke-width="0.2"><tspan font-style="italic">n</tspan><tspan dx="1.6">=</tspan><tspan dx="2.2">2.5</tspan></text>
<line x1="637.00" y1="88.60" x2="650.60" y2="88.60" stroke="#2d708e" stroke-width="1.15" stroke-dasharray="0.87,1.44"/>
<path d="M642.70 90.80 L643.80 89.70 L644.90 90.80 L646.00 89.70 L644.90 88.60 L646.00 87.50 L644.90 86.40 L643.80 87.50 L642.70 86.40 L641.60 87.50 L642.70 88.60 L641.60 89.70 Z" fill="#2d708e" stroke="#2d708e" stroke-width="0.60" stroke-linejoin="miter"/>
<text transform="translate(655.80,91.13) scale(0.9,1)" font-size="6.75" font-family="'DejaVu Sans','Liberation Sans',sans-serif" fill="#000" stroke="#000" stroke-width="0.2"><tspan font-style="italic">n</tspan><tspan dx="1.6">=</tspan><tspan dx="2.2">2</tspan></text>
<line x1="637.00" y1="97.80" x2="650.60" y2="97.80" stroke="#38588c" stroke-width="1.15"/>
<path d="M641.60 97.80 L646.00 100.00 L646.00 95.60 Z" fill="#38588c" stroke="#38588c" stroke-width="0.60" stroke-linejoin="miter"/>
<text transform="translate(655.80,100.33) scale(0.9,1)" font-size="6.75" font-family="'DejaVu Sans','Liberation Sans',sans-serif" fill="#000" stroke="#000" stroke-width="0.2"><tspan font-style="italic">n</tspan><tspan dx="1.6">=</tspan><tspan dx="2.2">1.5</tspan></text>
<line x1="637.00" y1="107.00" x2="650.60" y2="107.00" stroke="#433e85" stroke-width="1.15" stroke-dasharray="3.22,1.39"/>
<path d="M646.00 107.00 L641.60 104.80 L641.60 109.20 Z" fill="#433e85" stroke="#433e85" stroke-width="0.60" stroke-linejoin="miter"/>
<text transform="translate(655.80,109.53) scale(0.9,1)" font-size="6.75" font-family="'DejaVu Sans','Liberation Sans',sans-serif" fill="#000" stroke="#000" stroke-width="0.2"><tspan font-style="italic">n</tspan><tspan dx="1.6">=</tspan><tspan dx="2.2">1</tspan></text>
<line x1="637.00" y1="116.20" x2="650.60" y2="116.20" stroke="#482173" stroke-width="1.15" stroke-dasharray="5.57,1.39,0.87,1.39"/>
<path d="M643.80 118.40 L643.80 114.00" fill="none" stroke="#482173" stroke-width="0.60"/>
<text transform="translate(655.80,118.73) scale(0.9,1)" font-size="6.75" font-family="'DejaVu Sans','Liberation Sans',sans-serif" fill="#000" stroke="#000" stroke-width="0.2"><tspan font-style="italic">n</tspan><tspan dx="1.6">=</tspan><tspan dx="2.2">0.5</tspan></text>
<line x1="637.00" y1="125.40" x2="650.60" y2="125.40" stroke="#440154" stroke-width="1.15" stroke-dasharray="0.87,1.44"/>
<path d="M646.00 125.40 L641.60 125.40" fill="none" stroke="#440154" stroke-width="0.60"/>
<text transform="translate(655.80,127.93) scale(0.9,1)" font-size="6.75" font-family="'DejaVu Sans','Liberation Sans',sans-serif" fill="#000" stroke="#000" stroke-width="0.2"><tspan font-style="italic">n</tspan><tspan dx="1.6">=</tspan><tspan dx="2.2">0</tspan></text>
</g>
<rect x="217.20" y="315.00" width="303.50" height="259.40" fill="#fff"/>
<line x1="253.50" y1="315.00" x2="253.50" y2="574.40" stroke="#c0c0c0" stroke-width="0.80"/>
<line x1="299.50" y1="315.00" x2="299.50" y2="574.40" stroke="#c0c0c0" stroke-width="0.80"/>
<line x1="345.50" y1="315.00" x2="345.50" y2="574.40" stroke="#c0c0c0" stroke-width="0.80"/>
<line x1="391.50" y1="315.00" x2="391.50" y2="574.40" stroke="#c0c0c0" stroke-width="0.80"/>
<line x1="437.50" y1="315.00" x2="437.50" y2="574.40" stroke="#c0c0c0" stroke-width="0.80"/>
<line x1="483.50" y1="315.00" x2="483.50" y2="574.40" stroke="#c0c0c0" stroke-width="0.80"/>
<line x1="217.20" y1="381.50" x2="520.70" y2="381.50" stroke="#c0c0c0" stroke-width="0.80"/>
<line x1="217.20" y1="456.50" x2="520.70" y2="456.50" stroke="#c0c0c0" stroke-width="0.80"/>
<line x1="217.20" y1="532.50" x2="520.70" y2="532.50" stroke="#c0c0c0" stroke-width="0.80"/>
<clipPath id="clipc"><rect x="217.20" y="315.00" width="303.50" height="259.40"/></clipPath>
<g filter="url(#soft)"><g clip-path="url(#clipc)">
<polyline points="230.64,326.80 299.70,367.00 368.77,435.00 437.83,473.80 506.89,562.80" fill="none" stroke="#fde725" stroke-width="1.15" stroke-linejoin="round"/>
<circle cx="230.64" cy="326.80" r="2.20" fill="#fde725" stroke="#fde725" stroke-width="0.60"/>
<circle cx="299.70" cy="367.00" r="2.20" fill="#fde725" stroke="#fde725" stroke-width="0.60"/>
<circle cx="368.77" cy="435.00" r="2.20" fill="#fde725" stroke="#fde725" stroke-width="0.60"/>
<circle cx="437.83" cy="473.80" r="2.20" fill="#fde725" stroke="#fde725" stroke-width="0.60"/>
<circle cx="506.89" cy="562.80" r="2.20" fill="#fde725" stroke="#fde725" stroke-width="0.60"/>
<polyline points="230.64,326.80 299.70,367.20 368.77,436.00 437.83,477.50 506.89,555.50" fill="none" stroke="#c2df23" stroke-width="1.15" stroke-dasharray="3.22,1.39" stroke-linejoin="round"/>
<path d="M228.44 329.00 L232.84 329.00 L232.84 324.60 L228.44 324.60 Z" fill="#c2df23" stroke="#c2df23" stroke-width="0.60" stroke-linejoin="miter"/>
<path d="M297.50 369.40 L301.90 369.40 L301.90 365.00 L297.50 365.00 Z" fill="#c2df23" stroke="#c2df23" stroke-width="0.60" stroke-linejoin="miter"/>
<path d="M366.57 438.20 L370.97 438.20 L370.97 433.80 L366.57 433.80 Z" fill="#c2df23" stroke="#c2df23" stroke-width="0.60" stroke-linejoin="miter"/>
<path d="M435.63 479.70 L440.03 479.70 L440.03 475.30 L435.63 475.30 Z" fill="#c2df23" stroke="#c2df23" stroke-width="0.60" stroke-linejoin="miter"/>
<path d="M504.69 557.70 L509.09 557.70 L509.09 553.30 L504.69 553.30 Z" fill="#c2df23" stroke="#c2df23" stroke-width="0.60" stroke-linejoin="miter"/>
<polyline points="230.64,326.80 299.70,367.40 368.77,437.00 437.83,478.50 506.89,555.50" fill="none" stroke="#86d549" stroke-width="1.15" stroke-dasharray="5.57,1.39,0.87,1.39" stroke-linejoin="round"/>
<path d="M230.64 324.60 L228.44 329.00 L232.84 329.00 Z" fill="#86d549" stroke="#86d549" stroke-width="0.60" stroke-linejoin="miter"/>
<path d="M299.70 365.20 L297.50 369.60 L301.90 369.60 Z" fill="#86d549" stroke="#86d549" stroke-width="0.60" stroke-linejoin="miter"/>
<path d="M368.77 434.80 L366.57 439.20 L370.97 439.20 Z" fill="#86d549" stroke="#86d549" stroke-width="0.60" stroke-linejoin="miter"/>
<path d="M437.83 476.30 L435.63 480.70 L440.03 480.70 Z" fill="#86d549" stroke="#86d549" stroke-width="0.60" stroke-linejoin="miter"/>
<path d="M506.89 553.30 L504.69 557.70 L509.09 557.70 Z" fill="#86d549" stroke="#86d549" stroke-width="0.60" stroke-linejoin="miter"/>
<polyline points="230.64,326.80 299.70,367.60 368.77,438.00 437.83,479.50 506.89,555.50" fill="none" stroke="#52c569" stroke-width="1.15" stroke-dasharray="0.87,1.44" stroke-linejoin="round"/>
<path d="M230.64 329.91 L233.76 326.80 L230.64 323.69 L227.53 326.80 Z" fill="#52c569" stroke="#52c569" stroke-width="0.60" stroke-linejoin="miter"/>
<path d="M299.70 370.71 L302.82 367.60 L299.70 364.49 L296.59 367.60 Z" fill="#52c569" stroke="#52c569" stroke-width="0.60" stroke-linejoin="miter"/>
<path d="M368.77 441.11 L371.88 438.00 L368.77 434.89 L365.65 438.00 Z" fill="#52c569" stroke="#52c569" stroke-width="0.60" stroke-linejoin="miter"/>
<path d="M437.83 482.61 L440.94 479.50 L437.83 476.39 L434.72 479.50 Z" fill="#52c569" stroke="#52c569" stroke-width="0.60" stroke-linejoin="miter"/>
<path d="M506.89 558.61 L510.00 555.50 L506.89 552.39 L503.78 555.50 Z" fill="#52c569" stroke="#52c569" stroke-width="0.60" stroke-linejoin="miter"/>
<polyline points="230.64,326.80 299.70,367.80 368.77,439.20 437.83,480.50 506.89,555.50" fill="none" stroke="#2ab07f" stroke-width="1.15" stroke-linejoin="round"/>
<path d="M230.64 329.00 L232.84 324.60 L228.44 324.60 Z" fill="#2ab07f" stroke="#2ab07f" stroke-width="0.60" stroke-linejoin="miter"/>
<path d="M299.70 370.00 L301.90 365.60 L297.50 365.60 Z" fill="#2ab07f" stroke="#2ab07f" stroke-width="0.60" stroke-linejoin="miter"/>
<path d="M368.77 441.40 L370.97 437.00 L366.57 437.00 Z" fill="#2ab07f" stroke="#2ab07f" stroke-width="0.60" stroke-linejoin="miter"/>
<path d="M437.83 482.70 L440.03 478.30 L435.63 478.30 Z" fill="#2ab07f" stroke="#2ab07f" stroke-width="0.60" stroke-linejoin="miter"/>
<path d="M506.89 557.70 L509.09 553.30 L504.69 553.30 Z" fill="#2ab07f" stroke="#2ab07f" stroke-width="0.60" stroke-linejoin="miter"/>
<polyline points="230.64,326.80 299.70,368.00 368.77,440.50 437.83,481.50 506.89,555.50" fill="none" stroke="#1e9b8a" stroke-width="1.15" stroke-dasharray="3.22,1.39" stroke-linejoin="round"/>
<path d="M229.91 329.00 L231.38 329.00 L231.38 327.53 L232.84 327.53 L232.84 326.07 L231.38 326.07 L231.38 324.60 L229.91 324.60 L229.91 326.07 L228.44 326.07 L228.44 327.53 L229.91 327.53 Z" fill="#1e9b8a" stroke="#1e9b8a" stroke-width="0.60" stroke-linejoin="miter"/>
<path d="M298.97 370.20 L300.44 370.20 L300.44 368.73 L301.90 368.73 L301.90 367.27 L300.44 367.27 L300.44 365.80 L298.97 365.80 L298.97 367.27 L297.50 367.27 L297.50 368.73 L298.97 368.73 Z" fill="#1e9b8a" stroke="#1e9b8a" stroke-width="0.60" stroke-linejoin="miter"/>
<path d="M368.03 442.70 L369.50 442.70 L369.50 441.23 L370.97 441.23 L370.97 439.77 L369.50 439.77 L369.50 438.30 L368.03 438.30 L368.03 439.77 L366.57 439.77 L366.57 441.23 L368.03 441.23 Z" fill="#1e9b8a" stroke="#1e9b8a" stroke-width="0.60" stroke-linejoin="miter"/>
<path d="M437.09 483.70 L438.56 483.70 L438.56 482.23 L440.03 482.23 L440.03 480.77 L438.56 480.77 L438.56 479.30 L437.09 479.30 L437.09 480.77 L435.63 480.77 L435.63 482.23 L437.09 482.23 Z" fill="#1e9b8a" stroke="#1e9b8a" stroke-width="0.60" stroke-linejoin="miter"/>
<path d="M506.15 557.70 L507.62 557.70 L507.62 556.23 L509.09 556.23 L509.09 554.77 L507.62 554.77 L507.62 553.30 L506.15 553.30 L506.15 554.77 L504.69 554.77 L504.69 556.23 L506.15 556.23 Z" fill="#1e9b8a" stroke="#1e9b8a" stroke-width="0.60" stroke-linejoin="miter"/>
<polyline points="230.64,326.80 299.70,368.60 368.77,442.00 437.83,482.70 506.89,555.50" fill="none" stroke="#25858e" stroke-width="1.15" stroke-dasharray="5.57,1.39,0.87,1.39" stroke-linejoin="round"/>
<path d="M230.64 324.60 L230.15 326.12 L228.55 326.12 L229.84 327.06 L229.35 328.58 L230.64 327.64 L231.94 328.58 L231.44 327.06 L232.74 326.12 L231.14 326.12 Z" fill="#25858e" stroke="#25858e" stroke-width="0.60" stroke-linejoin="miter"/>
<path d="M299.70 366.40 L299.21 367.92 L297.61 367.92 L298.91 368.86 L298.41 370.38 L299.70 369.44 L301.00 370.38 L300.50 368.86 L301.80 367.92 L300.20 367.92 Z" fill="#25858e" stroke="#25858e" stroke-width="0.60" stroke-linejoin="miter"/>
<path d="M368.77 439.80 L368.27 441.32 L366.67 441.32 L367.97 442.26 L367.47 443.78 L368.77 442.84 L370.06 443.78 L369.57 442.26 L370.86 441.32 L369.26 441.32 Z" fill="#25858e" stroke="#25858e" stroke-width="0.60" stroke-linejoin="miter"/>
<path d="M437.83 480.50 L437.33 482.02 L435.73 482.02 L437.03 482.96 L436.53 484.48 L437.83 483.54 L439.12 484.48 L438.63 482.96 L439.92 482.02 L438.32 482.02 Z" fill="#25858e" stroke="#25858e" stroke-width="0.60" stroke-linejoin="miter"/>
<path d="M506.89 553.30 L506.39 554.82 L504.80 554.82 L506.09 555.76 L505.59 557.28 L506.89 556.34 L508.18 557.28 L507.69 555.76 L508.98 554.82 L507.38 554.82 Z" fill="#25858e" stroke="#25858e" stroke-width="0.60" stroke-linejoin="miter"/>
<polyline points="230.64,326.80 299.70,369.60 368.77,444.00 437.83,484.00 506.89,555.50" fill="none" stroke="#2d708e" stroke-width="1.15" stroke-dasharray="0.87,1.44" stroke-linejoin="round"/>
<path d="M229.54 329.00 L230.64 327.90 L231.74 329.00 L232.84 327.90 L231.74 326.80 L232.84 325.70 L231.74 324.60 L230.64 325.70 L229.54 324.60 L228.44 325.70 L229.54 326.80 L228.44 327.90 Z" fill="#2d708e" stroke="#2d708e" stroke-width="0.60" stroke-linejoin="miter"/>
<path d="M298.60 371.80 L299.70 370.70 L300.80 371.80 L301.90 370.70 L300.80 369.60 L301.90 368.50 L300.80 367.40 L299.70 368.50 L298.60 367.40 L297.50 368.50 L298.60 369.60 L297.50 370.70 Z" fill="#2d708e" stroke="#2d708e" stroke-width="0.60" stroke-linejoin="miter"/>
<path d="M367.67 446.20 L368.77 445.10 L369.87 446.20 L370.97 445.10 L369.87 444.00 L370.97 442.90 L369.87 441.80 L368.77 442.90 L367.67 441.80 L366.57 442.90 L367.67 444.00 L366.57 445.10 Z" fill="#2d708e" stroke="#2d708e" stroke-width="0.60" stroke-linejoin="miter"/>
<path d="M436.73 486.20 L437.83 485.10 L438.93 486.20 L440.03 485.10 L438.93 484.00 L440.03 482.90 L438.93 481.80 L437.83 482.90 L436.73 481.80 L435.63 482.90 L436.73 484.00 L435.63 485.10 Z" fill="#2d708e" stroke="#2d708e" stroke-width="0.60" stroke-linejoin="miter"/>
<path d="M505.79 557.70 L506.89 556.60 L507.99 557.70 L509.09 556.60 L507.99 555.50 L509.09 554.40 L507.99 553.30 L506.89 554.40 L505.79 553.30 L504.69 554.40 L505.79 555.50 L504.69 556.60 Z" fill="#2d708e" stroke="#2d708e" stroke-width="0.60" stroke-linejoin="miter"/>
<polyline points="230.64,326.80 299.70,371.70 368.77,446.50 437.83,485.50 506.89,555.50" fill="none" stroke="#38588c" stroke-width="1.15" stroke-linejoin="round"/>
<path d="M228.44 326.80 L232.84 329.00 L232.84 324.60 Z" fill="#38588c" stroke="#38588c" stroke-width="0.60" stroke-linejoin="miter"/>
<path d="M297.50 371.70 L301.90 373.90 L301.90 369.50 Z" fill="#38588c" stroke="#38588c" stroke-width="0.60" stroke-linejoin="miter"/>
<path d="M366.57 446.50 L370.97 448.70 L370.97 444.30 Z" fill="#38588c" stroke="#38588c" stroke-width="0.60" stroke-linejoin="miter"/>
<path d="M435.63 485.50 L440.03 487.70 L440.03 483.30 Z" fill="#38588c" stroke="#38588c" stroke-width="0.60" stroke-linejoin="miter"/>
<path d="M504.69 555.50 L509.09 557.70 L509.09 553.30 Z" fill="#38588c" stroke="#38588c" stroke-width="0.60" stroke-linejoin="miter"/>
<polyline points="230.64,326.80 299.70,378.00 368.77,452.50 437.83,487.50 506.89,555.50" fill="none" stroke="#433e85" stroke-width="1.15" stroke-dasharray="3.22,1.39" stroke-linejoin="round"/>
<path d="M232.84 326.80 L228.44 324.60 L228.44 329.00 Z" fill="#433e85" stroke="#433e85" stroke-width="0.60" stroke-linejoin="miter"/>
<path d="M301.90 378.00 L297.50 375.80 L297.50 380.20 Z" fill="#433e85" stroke="#433e85" stroke-width="0.60" stroke-linejoin="miter"/>
<path d="M370.97 452.50 L366.57 450.30 L366.57 454.70 Z" fill="#433e85" stroke="#433e85" stroke-width="0.60" stroke-linejoin="miter"/>
<path d="M440.03 487.50 L435.63 485.30 L435.63 489.70 Z" fill="#433e85" stroke="#433e85" stroke-width="0.60" stroke-linejoin="miter"/>
<path d="M509.09 555.50 L504.69 553.30 L504.69 557.70 Z" fill="#433e85" stroke="#433e85" stroke-width="0.60" stroke-linejoin="miter"/>
<polyline points="230.64,326.80 299.70,391.00 368.77,461.50 437.83,490.00 506.89,555.50" fill="none" stroke="#482173" stroke-width="1.15" stroke-dasharray="5.57,1.39,0.87,1.39" stroke-linejoin="round"/>
<path d="M230.64 329.00 L230.64 324.60" fill="none" stroke="#482173" stroke-width="0.60"/>
<path d="M299.70 393.20 L299.70 388.80" fill="none" stroke="#482173" stroke-width="0.60"/>
<path d="M368.77 463.70 L368.77 459.30" fill="none" stroke="#482173" stroke-width="0.60"/>
<path d="M437.83 492.20 L437.83 487.80" fill="none" stroke="#482173" stroke-width="0.60"/>
<path d="M506.89 557.70 L506.89 553.30" fill="none" stroke="#482173" stroke-width="0.60"/>
<polyline points="230.64,403.80 299.70,438.30 368.77,477.80 437.83,493.00 506.89,555.50" fill="none" stroke="#440154" stroke-width="1.15" stroke-dasharray="0.87,1.44" stroke-linejoin="round"/>
<path d="M232.84 403.80 L228.44 403.80" fill="none" stroke="#440154" stroke-width="0.60"/>
<path d="M301.90 438.30 L297.50 438.30" fill="none" stroke="#440154" stroke-width="0.60"/>
<path d="M370.97 477.80 L366.57 477.80" fill="none" stroke="#440154" stroke-width="0.60"/>
<path d="M440.03 493.00 L435.63 493.00" fill="none" stroke="#440154" stroke-width="0.60"/>
<path d="M509.09 555.50 L504.69 555.50" fill="none" stroke="#440154" stroke-width="0.60"/>
</g></g>
<line x1="253.66" y1="574.40" x2="253.66" y2="577.10" stroke="#000" stroke-width="0.80"/>
<line x1="299.70" y1="574.40" x2="299.70" y2="577.10" stroke="#000" stroke-width="0.80"/>
<line x1="345.75" y1="574.40" x2="345.75" y2="577.10" stroke="#000" stroke-width="0.80"/>
<line x1="391.79" y1="574.40" x2="391.79" y2="577.10" stroke="#000" stroke-width="0.80"/>
<line x1="437.83" y1="574.40" x2="437.83" y2="577.10" stroke="#000" stroke-width="0.80"/>
<line x1="483.87" y1="574.40" x2="483.87" y2="577.10" stroke="#000" stroke-width="0.80"/>
<line x1="214.50" y1="381.40" x2="217.20" y2="381.40" stroke="#000" stroke-width="0.80"/>
<line x1="214.50" y1="457.00" x2="217.20" y2="457.00" stroke="#000" stroke-width="0.80"/>
<line x1="214.50" y1="532.60" x2="217.20" y2="532.60" stroke="#000" stroke-width="0.80"/>
<line x1="215.60" y1="572.13" x2="217.20" y2="572.13" stroke="#000" stroke-width="0.60"/>
<line x1="215.60" y1="562.68" x2="217.20" y2="562.68" stroke="#000" stroke-width="0.60"/>
<line x1="215.60" y1="555.36" x2="217.20" y2="555.36" stroke="#000" stroke-width="0.60"/>
<line x1="215.60" y1="549.37" x2="217.20" y2="549.37" stroke="#000" stroke-width="0.60"/>
<line x1="215.60" y1="544.31" x2="217.20" y2="544.31" stroke="#000" stroke-width="0.60"/>
<line x1="215.60" y1="539.93" x2="217.20" y2="539.93" stroke="#000" stroke-width="0.60"/>
<line x1="215.60" y1="536.06" x2="217.20" y2="536.06" stroke="#000" stroke-width="0.60"/>
<line x1="215.60" y1="509.84" x2="217.20" y2="509.84" stroke="#000" stroke-width="0.60"/>
<line x1="215.60" y1="496.53" x2="217.20" y2="496.53" stroke="#000" stroke-width="0.60"/>
<line x1="215.60" y1="487.08" x2="217.20" y2="487.08" stroke="#000" stroke-width="0.60"/>
<line x1="215.60" y1="479.76" x2="217.20" y2="479.76" stroke="#000" stroke-width="0.60"/>
<line x1="215.60" y1="473.77" x2="217.20" y2="473.77" stroke="#000" stroke-width="0.60"/>
<line x1="215.60" y1="468.71" x2="217.20" y2="468.71" stroke="#000" stroke-width="0.60"/>
<line x1="215.60" y1="464.33" x2="217.20" y2="464.33" stroke="#000" stroke-width="0.60"/>
<line x1="215.60" y1="460.46" x2="217.20" y2="460.46" stroke="#000" stroke-width="0.60"/>
<line x1="215.60" y1="434.24" x2="217.20" y2="434.24" stroke="#000" stroke-width="0.60"/>
<line x1="215.60" y1="420.93" x2="217.20" y2="420.93" stroke="#000" stroke-width="0.60"/>
<line x1="215.60" y1="411.48" x2="217.20" y2="411.48" stroke="#000" stroke-width="0.60"/>
<line x1="215.60" y1="404.16" x2="217.20" y2="404.16" stroke="#000" stroke-width="0.60"/>
<line x1="215.60" y1="398.17" x2="217.20" y2="398.17" stroke="#000" stroke-width="0.60"/>
<line x1="215.60" y1="393.11" x2="217.20" y2="393.11" stroke="#000" stroke-width="0.60"/>
<line x1="215.60" y1="388.73" x2="217.20" y2="388.73" stroke="#000" stroke-width="0.60"/>
<line x1="215.60" y1="384.86" x2="217.20" y2="384.86" stroke="#000" stroke-width="0.60"/>
<line x1="215.60" y1="358.64" x2="217.20" y2="358.64" stroke="#000" stroke-width="0.60"/>
<line x1="215.60" y1="345.33" x2="217.20" y2="345.33" stroke="#000" stroke-width="0.60"/>
<line x1="215.60" y1="335.88" x2="217.20" y2="335.88" stroke="#000" stroke-width="0.60"/>
<line x1="215.60" y1="328.56" x2="217.20" y2="328.56" stroke="#000" stroke-width="0.60"/>
<line x1="215.60" y1="322.57" x2="217.20" y2="322.57" stroke="#000" stroke-width="0.60"/>
<line x1="215.60" y1="317.51" x2="217.20" y2="317.51" stroke="#000" stroke-width="0.60"/>
<rect x="217.20" y="315.00" width="303.50" height="259.40" fill="none" stroke="#484848" stroke-width="1.05"/>
<g filter="url(#softt)" class="t">
<text x="253.66" y="585.40" font-size="7.50" text-anchor="middle" font-family="'DejaVu Sans','Liberation Sans',sans-serif" fill="#000">400</text>
<text x="299.70" y="585.40" font-size="7.50" text-anchor="middle" font-family="'DejaVu Sans','Liberation Sans',sans-serif" fill="#000">450</text>
<text x="345.75" y="585.40" font-size="7.50" text-anchor="middle" font-family="'DejaVu Sans','Liberation Sans',sans-serif" fill="#000">500</text>
<text x="391.79" y="585.40" font-size="7.50" text-anchor="middle" font-family="'DejaVu Sans','Liberation Sans',sans-serif" fill="#000">550</text>
<text x="437.83" y="585.40" font-size="7.50" text-anchor="middle" font-family="'DejaVu Sans','Liberation Sans',sans-serif" fill="#000">600</text>
<text x="483.87" y="585.40" font-size="7.50" text-anchor="middle" font-family="'DejaVu Sans','Liberation Sans',sans-serif" fill="#000">650</text>
<text x="212.60" y="384.95" font-size="7.50" text-anchor="end" font-family="'DejaVu Sans','Liberation Sans',sans-serif" fill="#000">10<tspan dy="-3.00" font-size="5.85" stroke-width="0.08">−1</tspan></text>
<text x="212.60" y="460.55" font-size="7.50" text-anchor="end" font-family="'DejaVu Sans','Liberation Sans',sans-serif" fill="#000">10<tspan dy="-3.00" font-size="5.85" stroke-width="0.08">−2</tspan></text>
<text x="212.60" y="536.15" font-size="7.50" text-anchor="end" font-family="'DejaVu Sans','Liberation Sans',sans-serif" fill="#000">10<tspan dy="-3.00" font-size="5.85" stroke-width="0.08">−3</tspan></text>
<text x="368.95" y="596.20" text-anchor="middle" fill="#000"><tspan font-family="'DejaVu Sans','Liberation Sans',sans-serif" font-style="italic" font-size="8.00">T</tspan><tspan font-family="'Liberation Serif','DejaVu Serif',serif" font-size="8.40"> (K)</tspan></text>
<text transform="translate(190.00,444.70) rotate(-90)" text-anchor="middle" fill="#000"><tspan font-family="'DejaVu Sans','Liberation Sans',sans-serif" font-style="italic" font-size="8.00">ρ</tspan><tspan font-family="'Liberation Serif','DejaVu Serif',serif" font-size="8.40"> (Ω-m)</tspan></text>
<text x="214.40" y="310.60" font-family="'Liberation Serif','DejaVu Serif',serif" font-weight="bold" font-size="13.00" fill="#000">(c)</text>
</g>
<g filter="url(#soft)">
<rect x="472.40" y="318.40" width="45.20" height="111.40" rx="1.5" ry="1.5" fill="#fff" fill-opacity="0.8" stroke="#ccc" stroke-width="0.62"/>
<line x1="474.60" y1="323.40" x2="488.20" y2="323.40" stroke="#fde725" stroke-width="1.15"/>
<circle cx="481.40" cy="323.40" r="2.20" fill="#fde725" stroke="#fde725" stroke-width="0.60"/>
<text transform="translate(493.60,325.93) scale(0.9,1)" font-size="6.75" font-family="'DejaVu Sans','Liberation Sans',sans-serif" fill="#000" stroke="#000" stroke-width="0.2"><tspan font-style="italic">n</tspan><tspan dx="1.6">=</tspan><tspan dx="2.2"><tspan font-size="8.2" dy="0.7">∞</tspan></tspan></text>
<line x1="474.60" y1="332.60" x2="488.20" y2="332.60" stroke="#c2df23" stroke-width="1.15" stroke-dasharray="3.22,1.39"/>
<path d="M479.20 334.80 L483.60 334.80 L483.60 330.40 L479.20 330.40 Z" fill="#c2df23" stroke="#c2df23" stroke-width="0.60" stroke-linejoin="miter"/>
<text transform="translate(493.60,335.13) scale(0.9,1)" font-size="6.75" font-family="'DejaVu Sans','Liberation Sans',sans-serif" fill="#000" stroke="#000" stroke-width="0.2"><tspan font-style="italic">n</tspan><tspan dx="1.6">=</tspan><tspan dx="2.2">5</tspan></text>
<line x1="474.60" y1="341.80" x2="488.20" y2="341.80" stroke="#86d549" stroke-width="1.15" stroke-dasharray="5.57,1.39,0.87,1.39"/>
<path d="M481.40 339.60 L479.20 344.00 L483.60 344.00 Z" fill="#86d549" stroke="#86d549" stroke-width="0.60" stroke-linejoin="miter"/>
<text transform="translate(493.60,344.33) scale(0.9,1)" font-size="6.75" font-family="'DejaVu Sans','Liberation Sans',sans-serif" fill="#000" stroke="#000" stroke-width="0.2"><tspan font-style="italic">n</tspan><tspan dx="1.6">=</tspan><tspan dx="2.2">4.5</tspan></text>
<line x1="474.60" y1="351.00" x2="488.20" y2="351.00" stroke="#52c569" stroke-width="1.15" stroke-dasharray="0.87,1.44"/>
<path d="M481.40 354.11 L484.51 351.00 L481.40 347.89 L478.29 351.00 Z" fill="#52c569" stroke="#52c569" stroke-width="0.60" stroke-linejoin="miter"/>
<text transform="translate(493.60,353.53) scale(0.9,1)" font-size="6.75" font-family="'DejaVu Sans','Liberation Sans',sans-serif" fill="#000" stroke="#000" stroke-width="0.2"><tspan font-style="italic">n</tspan><tspan dx="1.6">=</tspan><tspan dx="2.2">4</tspan></text>
<line x1="474.60" y1="360.20" x2="488.20" y2="360.20" stroke="#2ab07f" stroke-width="1.15"/>
<path d="M481.40 362.40 L483.60 358.00 L479.20 358.00 Z" fill="#2ab07f" stroke="#2ab07f" stroke-width="0.60" stroke-linejoin="miter"/>
<text transform="translate(493.60,362.73) scale(0.9,1)" font-size="6.75" font-family="'DejaVu Sans','Liberation Sans',sans-serif" fill="#000" stroke="#000" stroke-width="0.2"><tspan font-style="italic">n</tspan><tspan dx="1.6">=</tspan><tspan dx="2.2">3.5</tspan></text>
<line x1="474.60" y1="369.40" x2="488.20" y2="369.40" stroke="#1e9b8a" stroke-width="1.15" stroke-dasharray="3.22,1.39"/>
<path d="M480.67 371.60 L482.13 371.60 L482.13 370.13 L483.60 370.13 L483.60 368.67 L482.13 368.67 L482.13 367.20 L480.67 367.20 L480.67 368.67 L479.20 368.67 L479.20 370.13 L480.67 370.13 Z" fill="#1e9b8a" stroke="#1e9b8a" stroke-width="0.60" stroke-linejoin="miter"/>
<text transform="translate(493.60,371.93) scale(0.9,1)" font-size="6.75" font-family="'DejaVu Sans','Liberation Sans',sans-serif" fill="#000" stroke="#000" stroke-width="0.2"><tspan font-style="italic">n</tspan><tspan dx="1.6">=</tspan><tspan dx="2.2">3</tspan></text>
<line x1="474.60" y1="378.60" x2="488.20" y2="378.60" stroke="#25858e" stroke-width="1.15" stroke-dasharray="5.57,1.39,0.87,1.39"/>
<path d="M481.40 376.40 L480.91 377.92 L479.31 377.92 L480.60 378.86 L480.11 380.38 L481.40 379.44 L482.69 380.38 L482.20 378.86 L483.49 377.92 L481.89 377.92 Z" fill="#25858e" stroke="#25858e" stroke-width="0.60" stroke-linejoin="miter"/>
<text transform="translate(493.60,381.13) scale(0.9,1)" font-size="6.75" font-family="'DejaVu Sans','Liberation Sans',sans-serif" fill="#000" stroke="#000" stroke-width="0.2"><tspan font-style="italic">n</tspan><tspan dx="1.6">=</tspan><tspan dx="2.2">2.5</tspan></text>
<line x1="474.60" y1="387.80" x2="488.20" y2="387.80" stroke="#2d708e" stroke-width="1.15" stroke-dasharray="0.87,1.44"/>
<path d="M480.30 390.00 L481.40 388.90 L482.50 390.00 L483.60 388.90 L482.50 387.80 L483.60 386.70 L482.50 385.60 L481.40 386.70 L480.30 385.60 L479.20 386.70 L480.30 387.80 L479.20 388.90 Z" fill="#2d708e" stroke="#2d708e" stroke-width="0.60" stroke-linejoin="miter"/>
<text transform="translate(493.60,390.33) scale(0.9,1)" font-size="6.75" font-family="'DejaVu Sans','Liberation Sans',sans-serif" fill="#000" stroke="#000" stroke-width="0.2"><tspan font-style="italic">n</tspan><tspan dx="1.6">=</tspan><tspan dx="2.2">2</tspan></text>
<line x1="474.60" y1="397.00" x2="488.20" y2="397.00" stroke="#38588c" stroke-width="1.15"/>
<path d="M479.20 397.00 L483.60 399.20 L483.60 394.80 Z" fill="#38588c" stroke="#38588c" stroke-width="0.60" stroke-linejoin="miter"/>
<text transform="translate(493.60,399.53) scale(0.9,1)" font-size="6.75" font-family="'DejaVu Sans','Liberation Sans',sans-serif" fill="#000" stroke="#000" stroke-width="0.2"><tspan font-style="italic">n</tspan><tspan dx="1.6">=</tspan><tspan dx="2.2">1.5</tspan></text>
<line x1="474.60" y1="406.20" x2="488.20" y2="406.20" stroke="#433e85" stroke-width="1.15" stroke-dasharray="3.22,1.39"/>
<path d="M483.60 406.20 L479.20 404.00 L479.20 408.40 Z" fill="#433e85" stroke="#433e85" stroke-width="0.60" stroke-linejoin="miter"/>
<text transform="translate(493.60,408.73) scale(0.9,1)" font-size="6.75" font-family="'DejaVu Sans','Liberation Sans',sans-serif" fill="#000" stroke="#000" stroke-width="0.2"><tspan font-style="italic">n</tspan><tspan dx="1.6">=</tspan><tspan dx="2.2">1</tspan></text>
<line x1="474.60" y1="415.40" x2="488.20" y2="415.40" stroke="#482173" stroke-width="1.15" stroke-dasharray="5.57,1.39,0.87,1.39"/>
<path d="M481.40 417.60 L481.40 413.20" fill="none" stroke="#482173" stroke-width="0.60"/>
<text transform="translate(493.60,417.93) scale(0.9,1)" font-size="6.75" font-family="'DejaVu Sans','Liberation Sans',sans-serif" fill="#000" stroke="#000" stroke-width="0.2"><tspan font-style="italic">n</tspan><tspan dx="1.6">=</tspan><tspan dx="2.2">0.5</tspan></text>
<line x1="474.60" y1="424.60" x2="488.20" y2="424.60" stroke="#440154" stroke-width="1.15" stroke-dasharray="0.87,1.44"/>
<path d="M483.60 424.60 L479.20 424.60" fill="none" stroke="#440154" stroke-width="0.60"/>
<text transform="translate(493.60,427.13) scale(0.9,1)" font-size="6.75" font-family="'DejaVu Sans','Liberation Sans',sans-serif" fill="#000" stroke="#000" stroke-width="0.2"><tspan font-style="italic">n</tspan><tspan dx="1.6">=</tspan><tspan dx="2.2">0</tspan></text>
</g>
</svg>
</body></html>
